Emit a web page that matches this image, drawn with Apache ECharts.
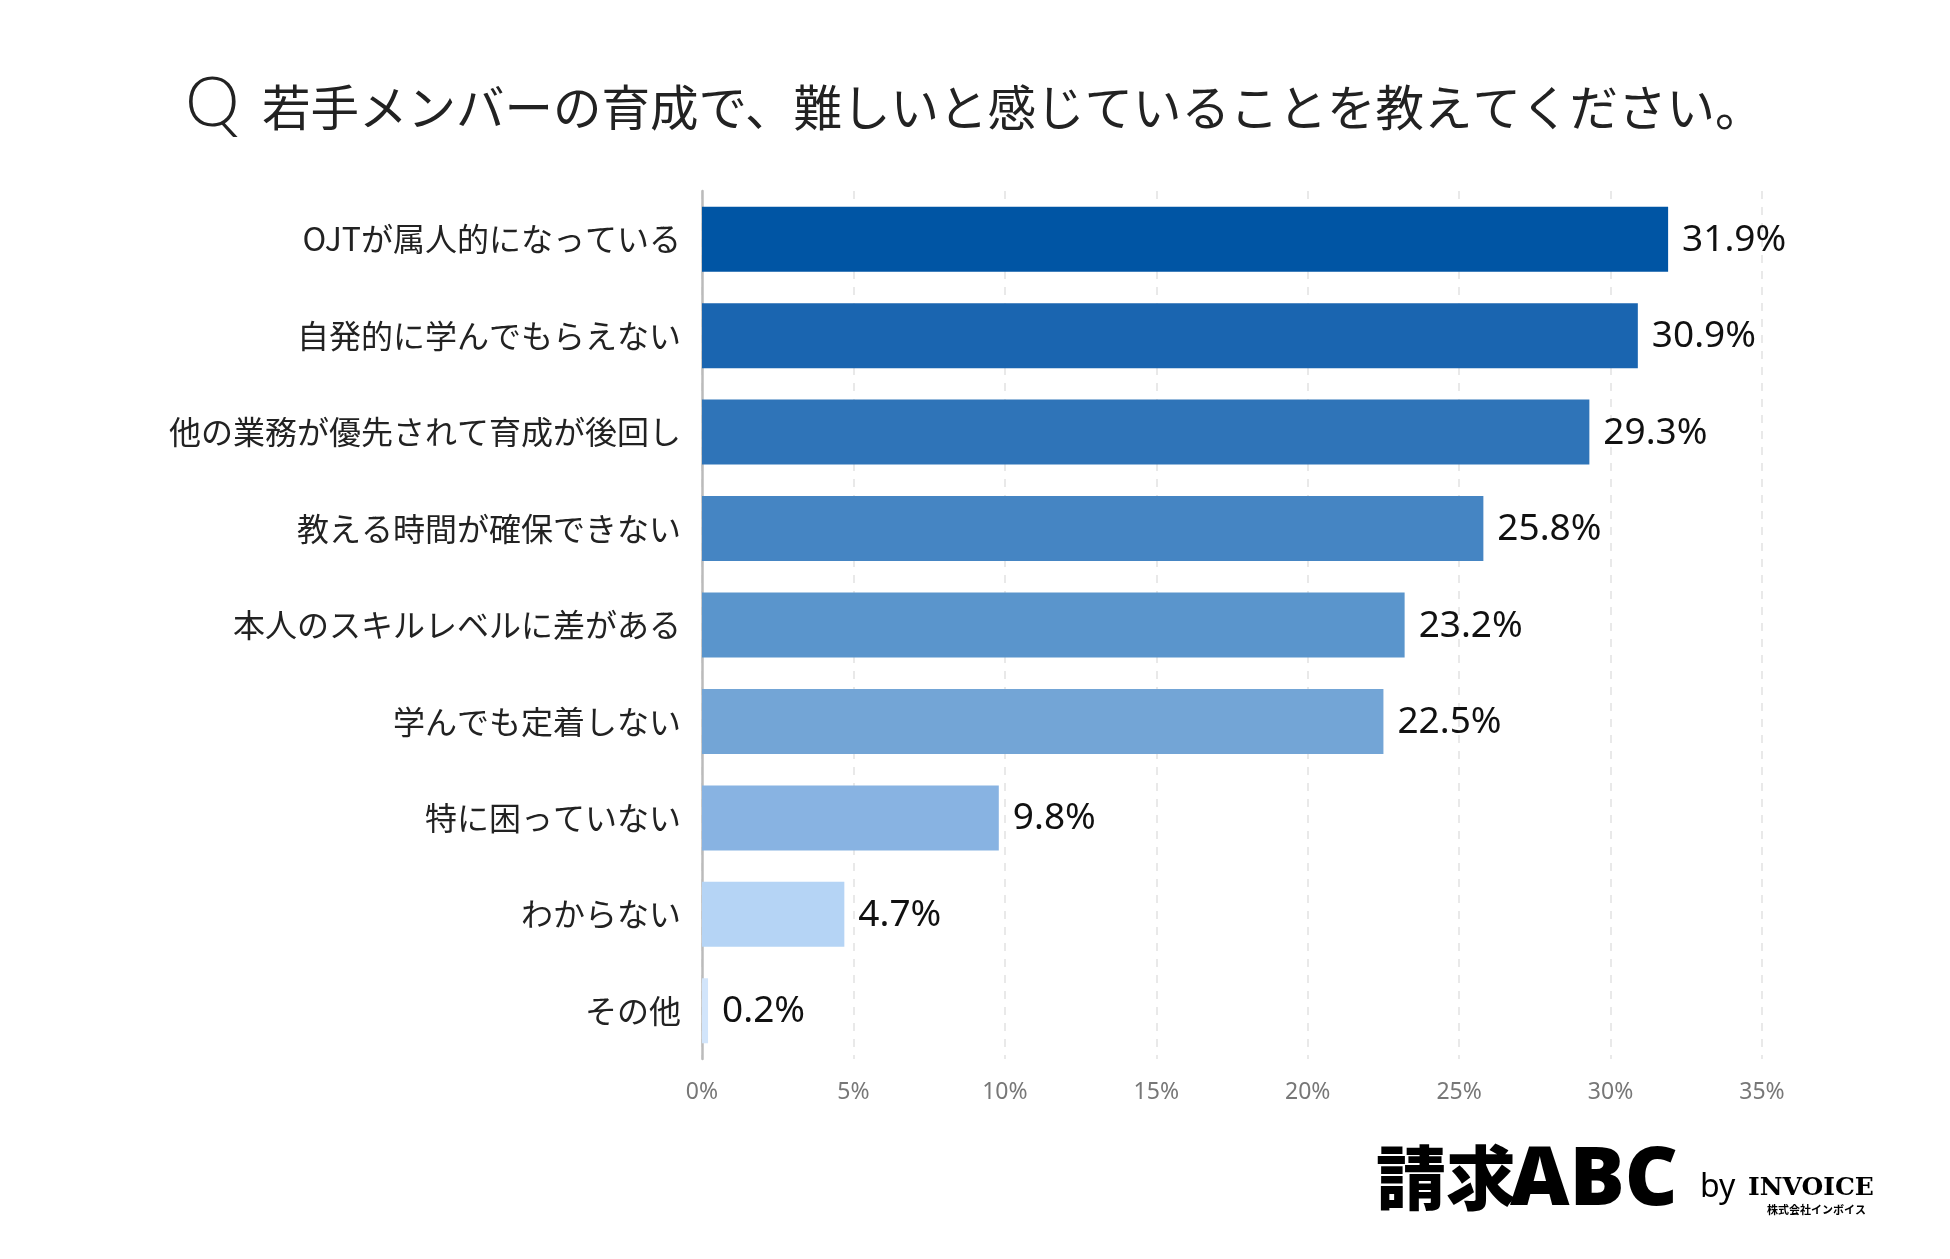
<!DOCTYPE html>
<html>
<head>
<meta charset="utf-8">
<script src="https://cdn.jsdelivr.net/npm/echarts@6/dist/echarts.min.js"></script>
<style>
  html, body { margin: 0; padding: 0; background: #fff; }
  #chart { width: 1950px; height: 1259px; }
</style>
</head>
<body>
<div id="chart"></div>
<script>
// ─── Data ───────────────────────────────────────────────────────────────────

const TITLE = '若手メンバーの育成で、難しいと感じていることを教えてください。';

const categories = [
  'OJTが属人的になっている',
  '自発的に学んでもらえない',
  '他の業務が優先されて育成が後回し',
  '教える時間が確保できない',
  '本人のスキルレベルに差がある',
  '学んでも定着しない',
  '特に困っていない',
  'わからない',
  'その他',
];

const values = [31.9, 30.9, 29.3, 25.8, 23.2, 22.5, 9.8, 4.7, 0.2];

const xTicks = [0, 5, 10, 15, 20, 25, 30, 35];

// bar shades, darkest at the top
const PALETTE = [
  '#0055a4', '#1a65b0', '#2f74b8', '#4585c3', '#5a95cc',
  '#73a5d6', '#88b3e2', '#b5d4f5', '#d2e5fb',
];

const JP = '"Noto Sans CJK JP", "Noto Sans", sans-serif';
const LATIN = '"Noto Sans", "Open Sans", sans-serif';

// ─── Chart ──────────────────────────────────────────────────────────────────

const chart = echarts.init(document.getElementById('chart'), null, { renderer: 'canvas' });

chart.setOption({
  backgroundColor: '#ffffff',
  animation: false,
  grid: { left: 702, right: 188, top: 191, height: 868, containLabel: false },
  xAxis: {
    type: 'value',
    min: xTicks[0],
    max: xTicks[xTicks.length - 1],
    interval: 5,
    axisLine: { show: false },
    axisTick: { show: false },
    axisLabel: {
      formatter: '{value}%',
      color: '#777777',
      fontFamily: LATIN,
      fontSize: 23,
      margin: 22,
    },
    splitLine: { lineStyle: { color: '#e2e2e2', width: 1.5, type: [8, 8] } },
  },
  yAxis: {
    type: 'category',
    inverse: true,
    data: categories,
    axisLine: { lineStyle: { color: '#bbbbbb', width: 2.5 } },
    axisTick: { show: false },
    axisLabel: {
      color: '#222222',
      fontFamily: JP,
      fontSize: 32,
      margin: 21,
    },
  },
  series: [{
    type: 'bar',
    data: values.map((v, i) => ({ value: v, itemStyle: { color: PALETTE[i] } })),
    barWidth: 65,
    label: {
      show: true,
      position: 'right',
      distance: 14,
      offset: [0, 1],
      formatter: p => p.value.toFixed(1) + '%',
      color: '#111111',
      fontFamily: LATIN,
      fontSize: 37,
    },
  }],
  graphic: [
    {
      type: 'text', left: 185, top: 69,
      style: { text: 'Q', font: '300 69px Lato, "Noto Sans", sans-serif', fill: '#222222' },
    },
    {
      type: 'text', left: 262, top: 83,
      style: { text: TITLE, font: '400 48.5px ' + JP, fill: '#222222' },
    },
    // logo
    {
      type: 'text', left: 1376, top: 1143,
      style: { text: '請求', font: '900 70px ' + JP, fill: '#000000' },
    },
    {
      type: 'text', left: 1510, top: 1141,
      style: { text: 'ABC', font: '900 82px ' + LATIN, fill: '#000000' },
    },
    {
      type: 'text', left: 1700, top: 1172,
      style: { text: 'by', font: '400 32px ' + LATIN, fill: '#000000' },
    },
    {
      type: 'text', left: 1748, top: 1176,
      style: { text: 'INVOICE', font: '700 25px "DejaVu Serif", serif', fill: '#000000' },
    },
    {
      type: 'text', left: 1767, top: 1204,
      style: { text: '株式会社インボイス', font: '700 11px ' + JP, fill: '#000000' },
    },
  ],
});
</script>
</body>
</html>
